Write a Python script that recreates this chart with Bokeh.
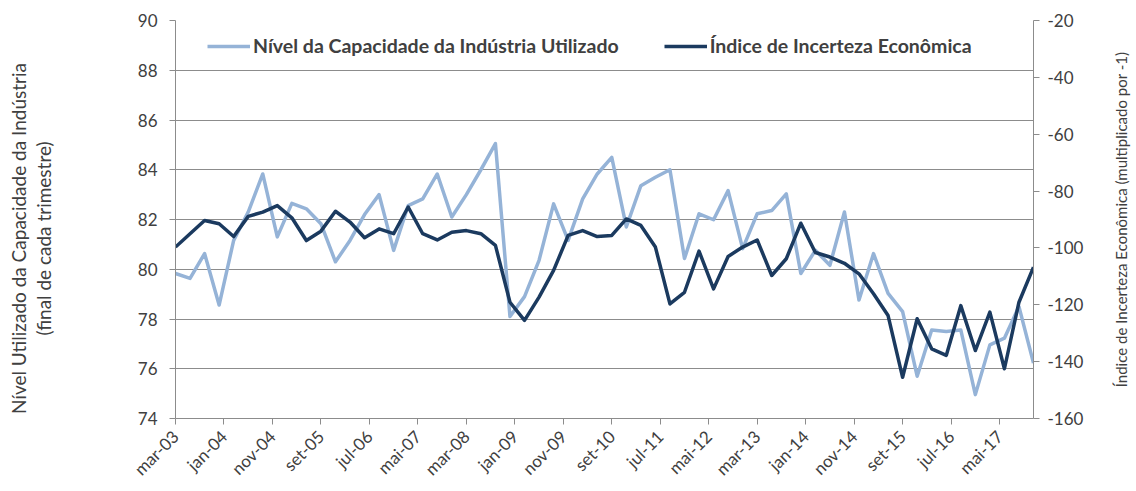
from math import pi
from bokeh.plotting import figure
from bokeh.layouts import row
from bokeh.models import Range1d, LinearAxis, FixedTicker, Legend, LegendItem, Label
from bokeh.embed import file_html
from bokeh.resources import INLINE

# ---------------- data ----------------
anos = list(range(3, 18))
trimestres = ["mar", "jun", "set", "dez"]
quarters = [f"{m}-{a:02d}" for a in anos for m in trimestres]

capacidade = [79.83, 79.63, 80.63, 78.56, 81.16, 82.30, 83.83, 81.30, 82.65, 82.43,
              81.83, 80.30, 81.16, 82.20, 83.00, 80.76, 82.56, 82.83, 83.83, 82.10,
              83.00, 84.00, 85.05, 78.10, 78.90, 80.36, 82.63, 81.16, 82.83, 83.83,
              84.50, 81.70, 83.36, 83.70, 84.00, 80.43, 82.23, 81.99, 83.16, 80.83,
              82.23, 82.36, 83.03, 79.83, 80.76, 80.16, 82.30, 78.76, 80.63, 79.03,
              78.30, 75.70, 77.56, 77.50, 77.56, 74.96, 76.96, 77.23, 78.50, 76.23]

incerteza = [-99.7, -95.0, -90.35, -91.5, -96.0, -88.9, -87.4, -85.1, -89.4, -97.4,
             -94.1, -87.1, -90.9, -96.4, -93.3, -95.0, -85.6, -95.0, -97.2, -94.5,
             -93.9, -95.0, -99.1, -119.1, -125.5, -117.3, -107.9, -95.6, -93.9, -96.0,
             -95.6, -89.8, -92.1, -99.7, -119.7, -115.6, -101.1, -114.4, -103.0, -99.7,
             -97.2, -109.7, -103.8, -91.3, -101.6, -103.2, -105.4, -109.1, -116.1, -123.8,
             -145.5, -124.9, -135.5, -137.8, -120.3, -136.1, -122.6, -142.5, -119.1, -106.8]

tick_labels = ["mar-03", "jan-04", "nov-04", "set-05", "jul-06", "mai-07", "mar-08",
               "jan-09", "nov-09", "set-10", "jul-11", "mai-12", "mar-13", "jan-14",
               "nov-14", "set-15", "jul-16", "mai-17"]
left_ticks = [74, 76, 78, 80, 82, 84, 86, 88, 90]
right_ticks = [-160, -140, -120, -100, -80, -60, -40, -20]

serie1 = "Nível da Capacidade da Indústria Utilizado"
serie2 = "Índice de Incerteza Econômica"
ylab_left = "Nível Utilizado da Capacidade da Indústria\n(final de cada trimestre)"
ylab_right = "Índice de Incerteza Econômica (multiplicado por -1)"

MESES = ["jan", "fev", "mar", "abr", "mai", "jun", "jul", "ago", "set", "out", "nov", "dez"]


def month_index(lbl):
    m, a = lbl.split("-")
    return (int(a) - 3) * 12 + MESES.index(m) - 2


x = [month_index(q) for q in quarters]
tick_pos = [month_index(t) for t in tick_labels]

# ---------------- styling ----------------
FONT = "Lato"
TXT = "#404040"
GRID = "#8c8c8c"
LIGHT = "#95B3D7"
DARK = "#1B3A5F"
H = 491
TOP, BOTTOM = 20, 73     # frame borders shared by every panel of the row
WL, WR = 60, 36          # widths of the title strips
WM = 1136 - WL - WR      # main chart width

p = figure(width=WM, height=H, output_backend="svg", toolbar_location=None,
           x_range=Range1d(x[0], x[-1]), y_range=Range1d(74, 90),
           min_border_left=175 - WL, min_border_right=WM + WL - 1033,
           min_border_top=TOP, min_border_bottom=BOTTOM)
p.extra_y_ranges = {"inc": Range1d(-160, -20)}
p.outline_line_color = None
p.background_fill_color = "white"

r1 = p.line(x, capacidade, line_color=LIGHT, line_width=3.5, line_join="round")
r2 = p.line(x, incerteza, y_range_name="inc", line_color=DARK, line_width=3.5,
            line_join="round")

right_axis = LinearAxis(y_range_name="inc")
p.add_layout(right_axis, "right")

p.xgrid.visible = False
p.ygrid.grid_line_color = GRID
p.ygrid.grid_line_width = 1
p.ygrid.ticker = FixedTicker(ticks=left_ticks)

for ax in p.axis:
    ax.axis_line_color = GRID
    ax.major_tick_line_color = GRID
    ax.minor_tick_line_color = None
    ax.major_tick_in = 0
    ax.major_tick_out = 6
    ax.major_label_text_font = FONT
    ax.major_label_text_font_size = "17px"
    ax.major_label_text_color = TXT

p.xaxis.ticker = FixedTicker(ticks=tick_pos)
p.xaxis.major_label_overrides = {tp: lbl for tp, lbl in zip(tick_pos, tick_labels)}
p.xaxis.major_label_orientation = pi / 4
p.xaxis.major_label_standoff = 9

p.yaxis[0].ticker = FixedTicker(ticks=left_ticks)
p.yaxis[0].major_label_standoff = 12

right_axis.ticker = FixedTicker(ticks=right_ticks)
right_axis.major_label_overrides = {t: str(t) for t in right_ticks}
right_axis.major_label_standoff = 8

legend = Legend(items=[LegendItem(label=serie1, renderers=[r1]),
                       LegendItem(label=serie2, renderers=[r2])],
                orientation="horizontal", location=(32, 361),
                glyph_width=43, glyph_height=20, label_height=20,
                label_standoff=3, spacing=45, padding=0, margin=0,
                border_line_color=None, background_fill_alpha=0,
                label_text_font=FONT, label_text_font_size="19.5px",
                label_text_font_style="bold", label_text_color=TXT)
p.add_layout(legend)


def title_strip(width, text, cx, cy, size, line_height):
    # cx, cy: wanted centre of the text in page pixels from the strip's top-left
    f = figure(width=width, height=H, output_backend="svg", toolbar_location=None,
               x_range=Range1d(0, width), y_range=Range1d(0, H - TOP - BOTTOM),
               x_axis_location=None, y_axis_location=None,
               min_border_left=0, min_border_right=0, min_border_top=TOP,
               min_border_bottom=BOTTOM)
    f.outline_line_color = None
    f.grid.visible = False
    f.add_layout(Label(x=cx, y=H - BOTTOM - cy, x_units="screen", y_units="screen",
                       text=text, angle=pi / 2, text_align="center",
                       text_baseline="middle", text_font=FONT,
                       text_font_size=size, text_color=TXT,
                       text_line_height=line_height))
    return f


left_strip = title_strip(WL, ylab_left, 30.5, 238, "19px", 1.1)
right_strip = title_strip(WR, ylab_right, 1120 - (1136 - WR), 219, "15px", 1.2)

layout = row(left_strip, p, right_strip)
open("out.html", "w").write(file_html(layout, INLINE))
